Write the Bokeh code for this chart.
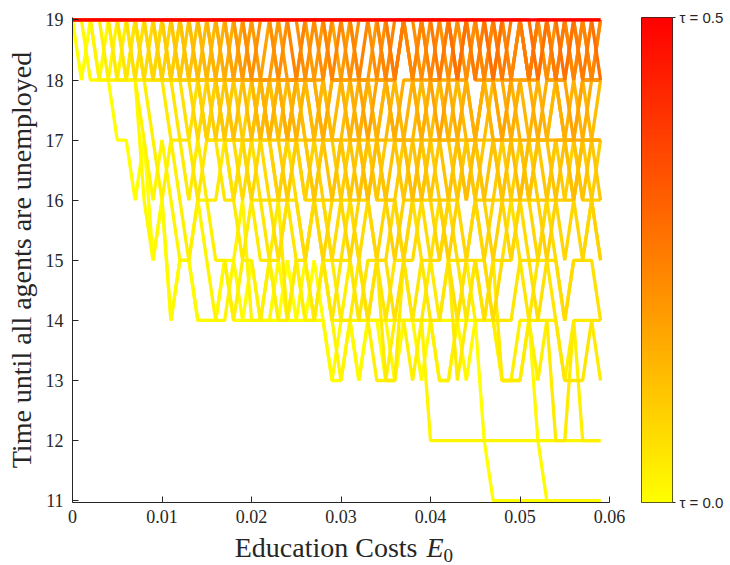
import numpy as np
from bokeh.plotting import figure
from bokeh.models import Range1d, FixedTicker, LinearAxis, Label, LinearColorMapper
from bokeh.layouts import row, column
from bokeh.embed import file_html
from bokeh.resources import INLINE

# ---------------- data ----------------
E0 = [0.000, 0.001, 0.002, 0.003, 0.004, 0.005, 0.006, 0.007, 0.008, 0.009,
      0.010, 0.011, 0.012, 0.013, 0.014, 0.015, 0.016, 0.017, 0.018, 0.019,
      0.020, 0.021, 0.022, 0.023, 0.024, 0.025, 0.026, 0.027, 0.028, 0.029,
      0.030, 0.031, 0.032, 0.033, 0.034, 0.035, 0.036, 0.037, 0.038, 0.039,
      0.040, 0.041, 0.042, 0.043, 0.044, 0.045, 0.046, 0.047, 0.048, 0.049,
      0.050, 0.051, 0.052, 0.053, 0.054, 0.055, 0.056, 0.057, 0.058, 0.059]

tau_values = [0.00, 0.01, 0.02, 0.03, 0.04, 0.05, 0.06, 0.07, 0.08, 0.09,
              0.10, 0.11, 0.12, 0.13, 0.14, 0.15, 0.16, 0.18, 0.20, 0.22,
              0.24, 0.26, 0.28, 0.50]

t_000 = [19,18,19,18,18,17,17,16,17,15, 16,14,15,15,14,14,14,15,14,14,
         15,14,14,14,15,14,14,15,14,13, 13,14,13,14,14,13,13,14,14,14,
         14,13,13,14,14,14,12,11,11,11, 11,11,11,11,11,11,11,11,11,11]
t_001 = [19,19,18,18,19,18,18,18,16,15, 16,14,15,15,14,14,14,15,15,14,
         14,14,14,15,14,14,15,14,14,13, 14,14,13,14,14,14,13,14,14,13,
         14,14,14,14,13,14,14,14,13,13, 13,14,12,11,11,11,11,11,11,11]
t_002 = [19,19,19,18,18,19,18,18,17,16, 17,16,15,15,16,15,14,14,15,16,
         14,14,15,14,14,15,14,14,15,14, 13,14,14,14,14,14,14,14,14,14,
         12,12,12,12,12,12,12,12,12,12, 12,12,12,12,12,12,12,12,12,12]
t_003 = [19,19,19,19,18,18,19,18,18,17, 16,17,16,15,16,16,15,15,14,15,
         15,14,15,14,14,15,14,14,15,14, 14,15,14,14,13,13,14,14,13,14,
         14,13,13,14,15,14,14,14,13,13, 14,14,13,14,14,13,14,12,12,12]
t_004 = [19,19,19,19,19,18,18,19,18,18, 18,17,17,16,17,16,16,17,16,15,
         16,15,15,16,14,15,15,14,15,15, 14,14,15,14,15,13,13,15,14,14,
         15,14,15,13,14,15,14,15,13,13, 13,14,14,14,12,12,14,14,14,13]
t_005 = [19,19,19,19,19,19,18,19,18,18, 19,18,17,17,16,17,17,16,16,17,
         16,16,15,15,16,15,15,16,15,14, 15,15,14,15,15,14,15,15,14,15,
         14,14,15,15,14,15,15,14,14,14, 15,14,15,15,14,13,13,13,14,14]
t_006 = [19,19,19,19,19,19,19,18,19,18, 18,18,18,17,18,17,17,17,16,17,
         17,16,16,15,16,16,15,16,16,15, 15,16,15,14,15,15,14,15,16,15,
         15,16,15,14,15,15,14,15,15,16, 15,15,14,15,15,14,15,15,15,14]
t_007 = [19,19,19,19,19,19,19,19,18,19, 18,18,19,18,18,17,18,17,17,16,
         17,17,16,16,17,16,15,16,16,15, 16,16,15,16,15,15,16,15,15,16,
         15,15,16,15,15,16,15,14,15,15, 16,15,15,16,15,14,15,15,16,15]
t_008 = [19,19,19,19,19,19,19,19,19,18, 19,18,18,18,17,18,18,17,17,17,
         16,17,17,16,16,17,16,16,15,16, 16,15,16,16,15,16,16,15,16,16,
         16,15,16,16,15,16,15,16,16,15, 16,16,15,16,16,15,16,15,16,16]
t_009 = [19,19,19,19,19,19,19,19,19,19, 18,19,18,18,18,17,18,18,17,17,
         18,17,17,16,17,17,16,17,16,16, 17,16,16,17,16,16,15,16,16,17,
         16,16,15,16,17,16,16,15,16,16, 17,16,16,15,16,16,17,16,16,15]
t_010 = [19,19,19,19,19,19,19,19,19,19, 19,18,19,18,18,18,17,18,18,17,
         17,18,17,17,16,17,17,16,17,17, 16,17,17,16,17,16,16,17,16,16,
         17,16,16,17,16,17,16,16,17,16, 16,17,16,16,17,16,16,17,16,17]
t_011 = [19,19,19,19,19,19,19,19,19,19, 19,19,18,19,18,18,18,17,18,18,
         18,17,18,17,17,18,17,16,17,17, 17,16,17,17,16,17,17,16,17,17,
         16,17,17,16,17,16,17,17,16,17, 17,16,17,16,17,17,16,17,17,16]
t_012 = [19,19,19,19,19,19,19,19,19,19, 19,19,19,18,19,18,18,18,17,18,
         18,18,17,18,17,17,18,17,17,16, 17,17,16,17,17,16,17,17,17,16,
         17,17,16,17,17,17,16,17,16,17, 17,16,17,17,16,17,17,16,17,17]
t_013 = [19,19,19,19,19,19,19,19,19,19, 19,19,19,19,18,19,18,18,18,18,
         17,18,18,17,18,18,17,17,18,17, 17,18,17,16,17,18,17,17,16,17,
         17,18,17,17,16,17,17,18,17,17, 16,17,17,17,18,17,16,17,17,18]
t_014 = [19,19,19,19,19,19,19,19,19,19, 19,19,19,19,19,18,19,18,18,18,
         18,17,18,18,17,18,18,17,18,17, 18,17,17,18,17,17,18,17,17,18,
         17,17,17,18,17,17,18,17,17,17, 18,17,17,17,18,17,17,18,17,17]
t_015 = [19,19,19,19,19,19,19,19,19,19, 19,19,19,19,19,19,18,19,18,18,
         18,18,17,18,18,17,18,18,17,18, 18,17,18,18,17,18,17,17,18,17,
         18,18,17,17,18,17,18,17,17,18, 17,17,18,17,17,17,18,17,17,17]
t_016 = [19,19,19,19,19,19,19,19,19,19, 19,19,19,19,19,19,19,18,19,18,
         18,18,18,18,17,18,18,18,17,18, 18,18,17,18,18,18,17,18,18,17,
         18,18,18,17,18,17,18,18,18,17, 18,18,17,18,18,17,17,17,18,18]
t_018 = [19,19,19,19,19,19,19,19,19,19, 19,19,19,19,19,19,19,19,18,19,
         18,18,19,18,18,18,18,18,18,19, 18,18,18,17,18,18,18,19,18,18,
         18,17,18,18,18,19,18,18,17,18, 18,18,19,18,18,18,17,18,18,18]
t_020 = [19,19,19,19,19,19,19,19,19,19, 19,19,19,19,19,19,19,19,19,18,
         19,18,18,19,18,18,19,18,19,18, 18,19,18,18,19,18,18,19,18,19,
         18,18,19,18,19,18,18,19,18,18, 19,18,18,19,18,18,19,18,18,18]
t_022 = [19,19,19,19,19,19,19,19,19,19, 19,19,19,19,19,19,19,19,19,19,
         18,19,19,18,19,19,18,19,18,19, 19,18,19,19,18,19,18,19,19,18,
         19,19,18,19,18,19,19,18,19,18, 19,18,19,18,19,19,18,19,18,19]
t_024 = [19,19,19,19,19,19,19,19,19,19, 19,19,19,19,19,19,19,19,19,19,
         19,19,19,19,19,18,19,19,19,18, 19,19,18,19,19,18,19,19,18,19,
         18,19,19,18,19,19,18,19,19,18, 19,18,19,19,18,19,18,19,18,19]
t_026 = [19,19,19,19,19,19,19,19,19,19, 19,19,19,19,19,19,19,19,19,19,
         19,19,19,19,19,19,19,19,19,19, 19,19,19,19,19,19,18,19,19,19,
         19,18,19,19,19,18,19,19,18,19, 19,18,19,19,18,19,19,18,19,19]
t_028 = [19,19,19,19,19,19,19,19,19,19, 19,19,19,19,19,19,19,19,19,19,
         19,19,19,19,19,19,19,19,19,19, 19,19,19,19,19,19,19,19,19,19,
         19,19,19,18,19,19,19,18,19,19, 19,19,18,19,19,18,19,19,19,18]
t_050 = [19,19,19,19,19,19,19,19,19,19, 19,19,19,19,19,19,19,19,19,19,
         19,19,19,19,19,19,19,19,19,19, 19,19,19,19,19,19,19,19,19,19,
         19,19,19,19,19,19,19,19,19,19, 19,19,19,19,19,19,19,19,19,19]

series = [t_000, t_001, t_002, t_003, t_004, t_005, t_006, t_007, t_008, t_009,
          t_010, t_011, t_012, t_013, t_014, t_015, t_016, t_018, t_020, t_022,
          t_024, t_026, t_028, t_050]

x_ticks = [0, 0.01, 0.02, 0.03, 0.04, 0.05, 0.06]
x_tick_labels = ["0", "0.01", "0.02", "0.03", "0.04", "0.05", "0.06"]
y_ticks = [11, 12, 13, 14, 15, 16, 17, 18, 19]
tau_min, tau_max = 0.0, 0.5

# ---------------- style ----------------
INK = "#262626"
SERIF = "Liberation Serif"


def tau_color(t):
    g = int(round(255 * (1 - (t - tau_min) / (tau_max - tau_min))))
    return "#%02x%02x00" % (255, g)


p = figure(width=640, height=530,
           x_range=Range1d(0, 0.06), y_range=Range1d(10.97, 19.04),
           output_backend="svg", toolbar_location=None,
           min_border_left=72, min_border_right=31,
           min_border_top=15, min_border_bottom=26)
p.outline_line_color = None
p.xgrid.visible = False
p.ygrid.visible = False
p.background_fill_color = "white"

for t, ys in zip(tau_values, series):
    p.line(E0, ys, line_color=tau_color(t), line_width=3.3, line_join="bevel")

p.xaxis.ticker = FixedTicker(ticks=x_ticks)
p.xaxis.major_label_overrides = {k: v for k, v in zip(x_ticks, x_tick_labels)}
p.yaxis.ticker = FixedTicker(ticks=y_ticks)
for ax in (p.xaxis[0], p.yaxis[0]):
    ax.axis_line_color = INK
    ax.major_tick_line_color = INK
    ax.major_tick_in = 6
    ax.major_tick_out = 0
    ax.minor_tick_line_color = None
    ax.major_label_text_font = SERIF
    ax.major_label_text_font_size = "18px"
    ax.major_label_text_color = INK
p.xaxis.major_label_standoff = 7
p.yaxis.major_label_standoff = 9
p.yaxis.axis_label = "Time until all agents are unemployed"
p.yaxis.axis_label_text_font = SERIF
p.yaxis.axis_label_text_font_size = "28px"
p.yaxis.axis_label_text_font_style = "normal"
p.yaxis.axis_label_text_color = INK
p.yaxis.axis_label_standoff = 6

# ---------------- x-axis title strip: "Education Costs E_0" ----------------
xlab = figure(width=640, height=35, x_range=Range1d(0, 640), y_range=Range1d(0, 35),
              output_backend="svg", toolbar_location=None,
              x_axis_location=None, y_axis_location=None,
              min_border_left=0, min_border_right=0, min_border_top=0, min_border_bottom=0)
xlab.outline_line_color = None
xlab.xgrid.visible = False
xlab.ygrid.visible = False
xlab.add_layout(Label(x=417, y=18, text="Education Costs", text_align="right",
                      text_baseline="alphabetic", text_font=SERIF, text_font_size="28px",
                      text_color=INK))
xlab.add_layout(Label(x=426, y=18, text="E", text_align="left",
                      text_baseline="alphabetic", text_font=SERIF, text_font_size="28px",
                      text_font_style="italic", text_color=INK))
xlab.add_layout(Label(x=443, y=10, text="0", text_align="left",
                      text_baseline="alphabetic", text_font=SERIF, text_font_size="19px",
                      text_color=INK))

# ---------------- colour bar ----------------
palette = ["#ff%02x00" % int(round(255 * (1 - k / 255))) for k in range(256)]
mapper = LinearColorMapper(palette=palette, low=tau_min, high=tau_max)

cb = figure(width=90, height=530, x_range=Range1d(0, 1), y_range=Range1d(tau_min, tau_max),
            output_backend="svg", toolbar_location=None,
            x_axis_location=None, y_axis_location=None,
            min_border_left=1, min_border_right=58,
            min_border_top=17, min_border_bottom=28)
cb.xgrid.visible = False
cb.ygrid.visible = False
ramp = np.linspace(tau_min, tau_max, 256).reshape(256, 1)
cb.image(image=[ramp], x=0, y=tau_min, dw=1, dh=tau_max - tau_min, color_mapper=mapper)
cb.outline_line_color = INK
cb.outline_line_width = 1
cax = LinearAxis(ticker=FixedTicker(ticks=[tau_min, tau_max]),
                 major_label_overrides={tau_min: "τ = 0.0", tau_max: "τ = 0.5"})
cax.axis_line_color = None
cax.major_tick_line_color = INK
cax.major_tick_out = 3
cax.major_tick_in = 0
cax.minor_tick_line_color = None
cax.major_label_standoff = 4
cax.major_label_text_font = "Liberation Sans"
cax.major_label_text_font_size = "15px"
cax.major_label_text_color = INK
cb.add_layout(cax, "right")

layout = column(row(p, cb), xlab)
open("out.html", "w").write(file_html(layout, INLINE))
